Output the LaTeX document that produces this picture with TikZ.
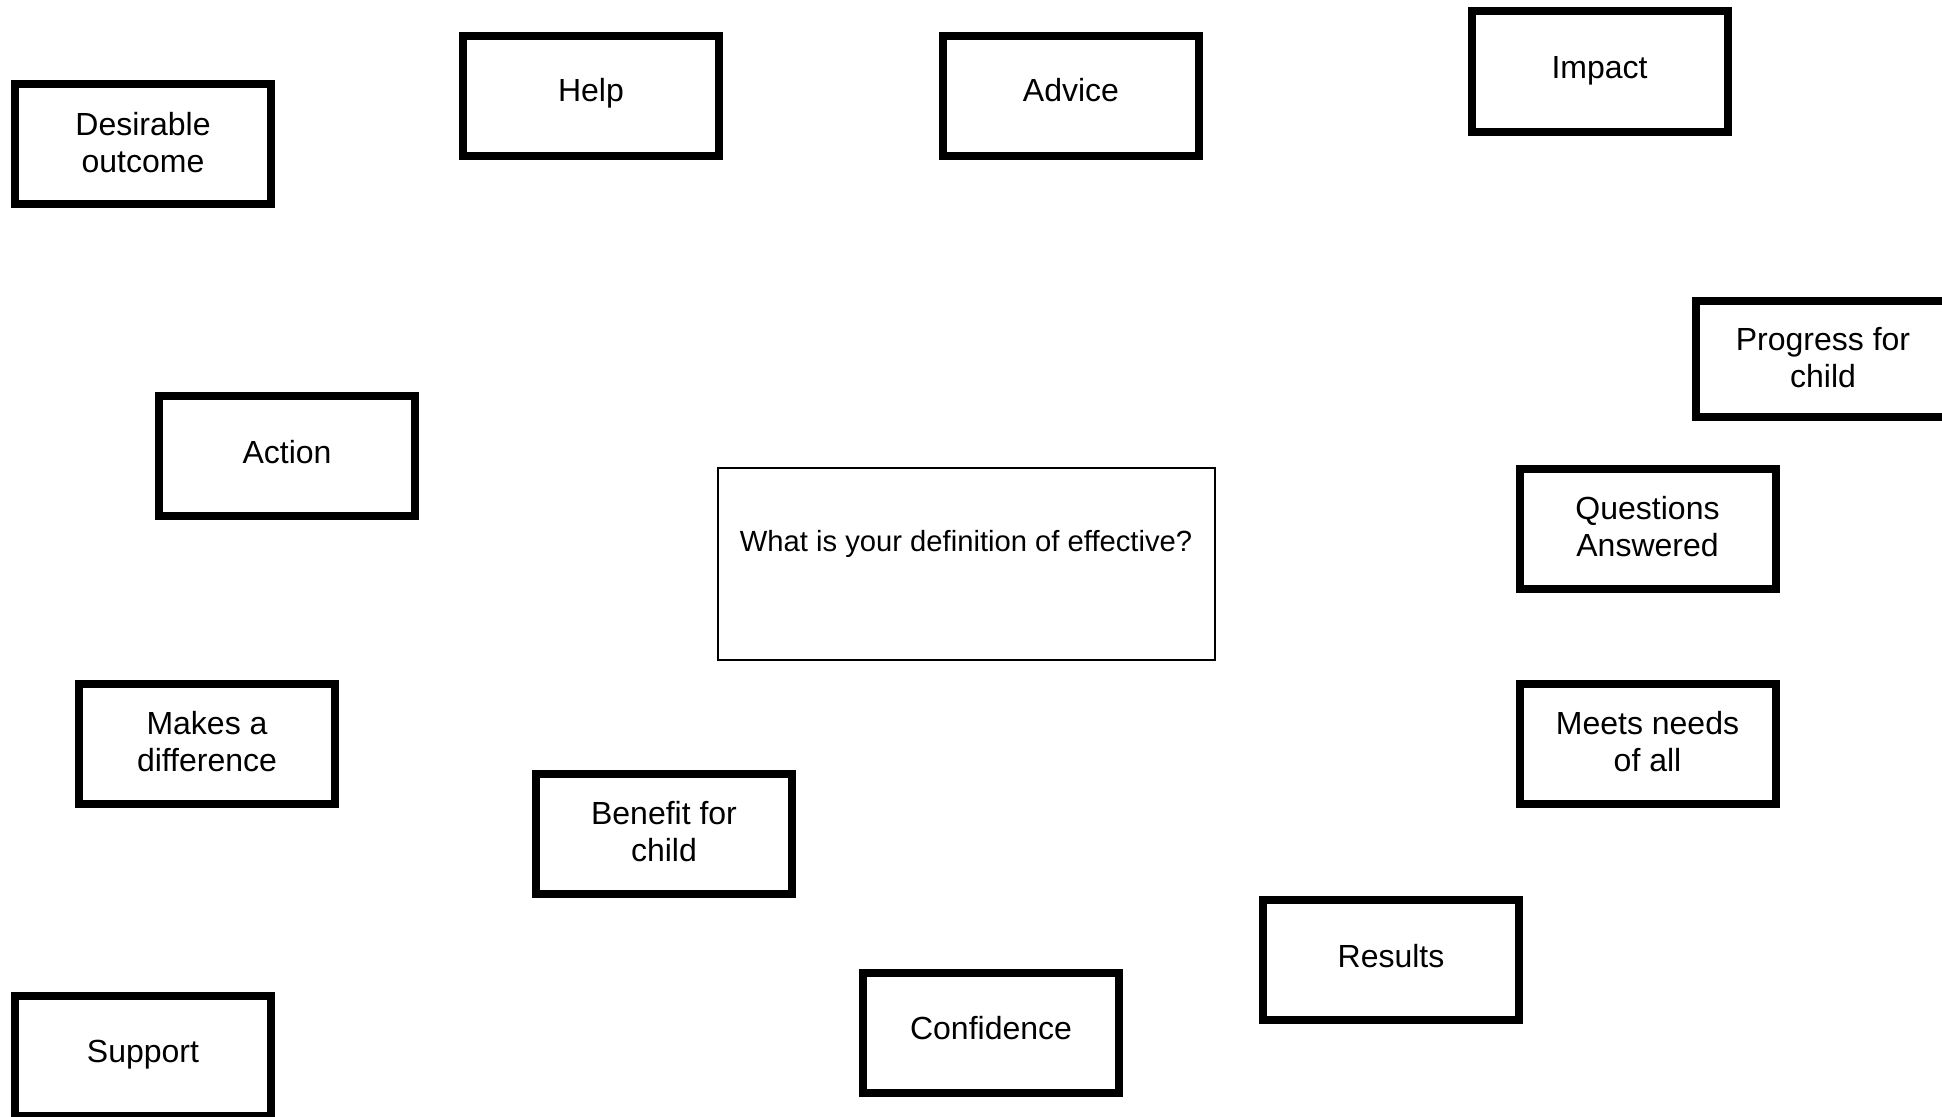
\documentclass[tikz,border=0pt]{standalone}
\usepackage{fontspec}
\setmainfont{Liberation Sans}
\begin{document}
\begin{tikzpicture}[x=1pt,y=-1pt,
  wordbox/.style={draw=black, line width=8pt, fill=white, minimum width=256pt, minimum height=120pt, inner sep=0pt},
  mainbox/.style={draw=black, line width=1.6pt, fill=white, inner sep=0pt},
  wordtxt/.style={inner sep=0pt, align=center, font=\fontsize{32}{37}\selectfont},
  maintxt/.style={inner sep=0pt, font=\fontsize{29.2}{34}\selectfont}]
\useasboundingbox (0,0) rectangle (1942,1116);
\fill[white] (0,0) rectangle (1942,1116);

% central question box
\node[mainbox, minimum width=497pt, minimum height=192pt] (q) at (966.5,564) {};
\node[maintxt, anchor=base] (qt) at (966,551) {What is your definition of effective?};

% two-line boxes
\node[wordbox] (desir) at (143,144) {};
\node[wordtxt] (desir-t) at (143,142.5) {Desirable\\outcome};
\node[wordbox, minimum height=116pt] (prog) at (1824,359) {};
\node[wordtxt] (prog-t) at (1823,357.5) {Progress for\\child};
\node[wordbox] (quest) at (1647.5,529) {};
\node[wordtxt] (quest-t) at (1647.5,527) {Questions\\Answered};
\node[wordbox] (makes) at (207,744) {};
\node[wordtxt] (makes-t) at (207,742) {Makes a\\difference};
\node[wordbox] (meets) at (1647.5,744) {};
\node[wordtxt] (meets-t) at (1647.5,742) {Meets needs\\of all};
\node[wordbox] (benef) at (664,834) {};
\node[wordtxt] (benef-t) at (664,832) {Benefit for\\child};

% one-line boxes
\node[wordbox] (help) at (591,96) {};
\node[wordtxt, anchor=base] (help-t) at (591,101.5) {Help};
\node[wordbox] (advice) at (1071,96) {};
\node[wordtxt, anchor=base] (advice-t) at (1071,101.5) {Advice};
\node[wordbox] (impact) at (1599.5,71.5) {};
\node[wordtxt, anchor=base] (impact-t) at (1599.5,78.5) {Impact};
\node[wordbox] (action) at (287,456) {};
\node[wordtxt, anchor=base] (action-t) at (287,463) {Action};
\node[wordbox] (results) at (1391,960) {};
\node[wordtxt, anchor=base] (results-t) at (1391,967) {Results};
\node[wordbox] (conf) at (991,1032.5) {};
\node[wordtxt, anchor=base] (conf-t) at (991,1039) {Confidence};
\node[wordbox] (support) at (143,1056) {};
\node[wordtxt, anchor=base] (support-t) at (143,1062) {Support};
\end{tikzpicture}
\end{document}
